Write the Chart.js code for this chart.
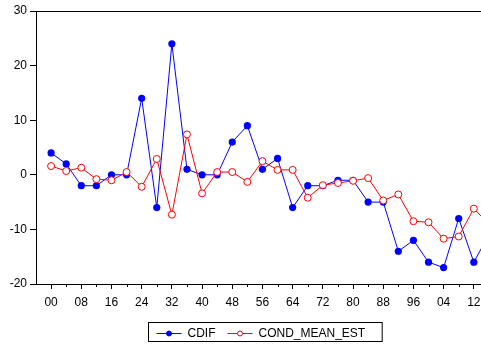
<!DOCTYPE html>
<html>
<head>
<meta charset="utf-8">
<script src="https://cdn.jsdelivr.net/npm/chart.js@4"></script>
<style>
  html, body { margin: 0; padding: 0; background: #fff; overflow: hidden; }
  #wrap { width: 529px; height: 345px; }
</style>
</head>
<body>
<div id="wrap"><canvas id="linechart"></canvas></div>
<script>
// data (every 4 years, 1900 - 2016)
const years = [1900, 1904, 1908, 1912, 1916, 1920, 1924, 1928, 1932, 1936,
               1940, 1944, 1948, 1952, 1956, 1960, 1964, 1968, 1972, 1976,
               1980, 1984, 1988, 1992, 1996, 2000, 2004, 2008, 2012, 2016];
const cdif = [4, 2, -2, -2, 0, 0, 14, -6, 24, 1,
              0, 0, 6, 9, 1, 3, -6, -2, -2, -1,
              -1, -5, -5, -14, -12, -16, -17, -8, -16, -11];
const condMeanEst = [1.6, 0.7, 1.3, -0.8, -1.0, 0.5, -2.2, 2.9, -7.3, 7.4,
                     -3.4, 0.5, 0.5, -1.3, 2.5, 0.9, 0.9, -4.2, -1.9, -1.5,
                     -1.1, -0.6, -4.7, -3.6, -8.5, -8.7, -11.7, -11.3, -6.2, -9.0];
const labelYears = [1900, 1908, 1916, 1924, 1932, 1940, 1948, 1956, 1964, 1972,
                    1980, 1988, 1996, 2004, 2012];
const yTicks = [-20, -10, 0, 10, 20, 30];

const FONT = '"Liberation Sans", Arial, sans-serif';

function yearLabel(y) {
    return String(y % 100).padStart(2, '0');
}

// top frame line, short minor ticks and the boxed legend
const framePlugin = {
    id: 'frame',
    afterDraw(chart) {
        const ctx = chart.ctx;
        const area = chart.chartArea;
        const xs = chart.scales.x;
        ctx.save();
        ctx.strokeStyle = '#000';
        ctx.lineWidth = 1;
        ctx.beginPath();
        ctx.moveTo(area.left, Math.round(area.top) + 0.5);
        ctx.lineTo(area.right, Math.round(area.top) + 0.5);
        // minor ticks
        years.forEach(y => {
            if (labelYears.includes(y)) return;
            const px = Math.round(xs.getPixelForValue(y)) + 0.5;
            ctx.moveTo(px, area.bottom);
            ctx.lineTo(px, area.bottom + 3);
        });
        ctx.stroke();

        // legend
        ctx.font = '12px ' + FONT;
        const items = chart.data.datasets.map(ds => ({ ds, w: ctx.measureText(ds.label).width }));
        const lineLen = 25;
        let total = 8;
        items.forEach((it, i) => { total += lineLen + 6 + it.w + (i < items.length - 1 ? 12 : 17); });
        const left = Math.round(chart.width / 2 - total / 2) + 0.5;
        const top = 322.5, h = 19, cy = 333;
        ctx.strokeRect(left, top, total, h);
        let x = left + 8;
        items.forEach(it => {
            const ds = it.ds;
            ctx.strokeStyle = ds.borderColor;
            ctx.beginPath();
            ctx.moveTo(x, cy + 0.5);
            ctx.lineTo(x + lineLen, cy + 0.5);
            ctx.stroke();
            ctx.beginPath();
            ctx.arc(x + lineLen / 2, cy + 0.5, 2.5, 0, Math.PI * 2);
            ctx.fillStyle = ds.pointBackgroundColor;
            ctx.fill();
            ctx.strokeStyle = ds.pointBorderColor;
            ctx.stroke();
            ctx.fillStyle = '#000';
            ctx.textBaseline = 'middle';
            ctx.textAlign = 'left';
            ctx.fillText(ds.label, x + lineLen + 6, cy + 1);
            x += lineLen + 6 + it.w + 12;
        });
        ctx.restore();
    }
};

const ctx = document.getElementById('linechart').getContext('2d');

new Chart(ctx, {
    type: 'line',
    data: {
        datasets: [
            {
                label: 'CDIF',
                data: years.map((y, i) => ({ x: y, y: cdif[i] })),
                borderColor: '#0000ff',
                backgroundColor: '#0000ff',
                pointBackgroundColor: '#0000ff',
                pointBorderColor: '#0000ff',
                pointBorderWidth: 0,
                pointRadius: 3.6,
                borderWidth: 1,
                tension: 0,
                order: 2
            },
            {
                label: 'COND_MEAN_EST',
                data: years.map((y, i) => ({ x: y, y: condMeanEst[i] })),
                borderColor: '#ff0000',
                backgroundColor: '#ffffff',
                pointBackgroundColor: '#ffffff',
                pointBorderColor: '#ff0000',
                pointBorderWidth: 1,
                pointRadius: 3.5,
                borderWidth: 1,
                tension: 0,
                order: 1
            }
        ]
    },
    options: {
        responsive: true,
        maintainAspectRatio: false,
        animation: false,
        layout: { padding: { top: 11, right: 25, bottom: 0, left: 0 } },
        plugins: {
            legend: { display: false },
            tooltip: { enabled: false }
        },
        scales: {
            x: {
                type: 'linear',
                min: 1896,
                max: 2020,
                afterFit: scale => { scale.height = 61; },
                afterBuildTicks: scale => {
                    scale.ticks = [1896].concat(years, [2020]).map(v => ({ value: v }));
                },
                ticks: {
                    autoSkip: false,
                    maxRotation: 0,
                    padding: 6,
                    color: '#000',
                    font: { family: FONT, size: 12 },
                    callback: value => labelYears.includes(value) ? yearLabel(value) : ''
                },
                grid: {
                    drawOnChartArea: false,
                    tickLength: 5,
                    tickColor: c => (c.tick && labelYears.includes(c.tick.value)) ? '#000' : 'rgba(0,0,0,0)'
                },
                border: { color: '#000', width: 1 }
            },
            y: {
                min: -20,
                max: 30,
                afterFit: scale => { scale.width = 36; },
                afterBuildTicks: scale => {
                    scale.ticks = yTicks.map(v => ({ value: v }));
                },
                ticks: {
                    padding: 3,
                    color: '#000',
                    font: { family: FONT, size: 12 }
                },
                grid: {
                    drawOnChartArea: false,
                    tickLength: 6,
                    tickColor: '#000'
                },
                border: { color: '#000', width: 1 }
            }
        }
    },
    plugins: [framePlugin]
});
</script>
</body>
</html>
